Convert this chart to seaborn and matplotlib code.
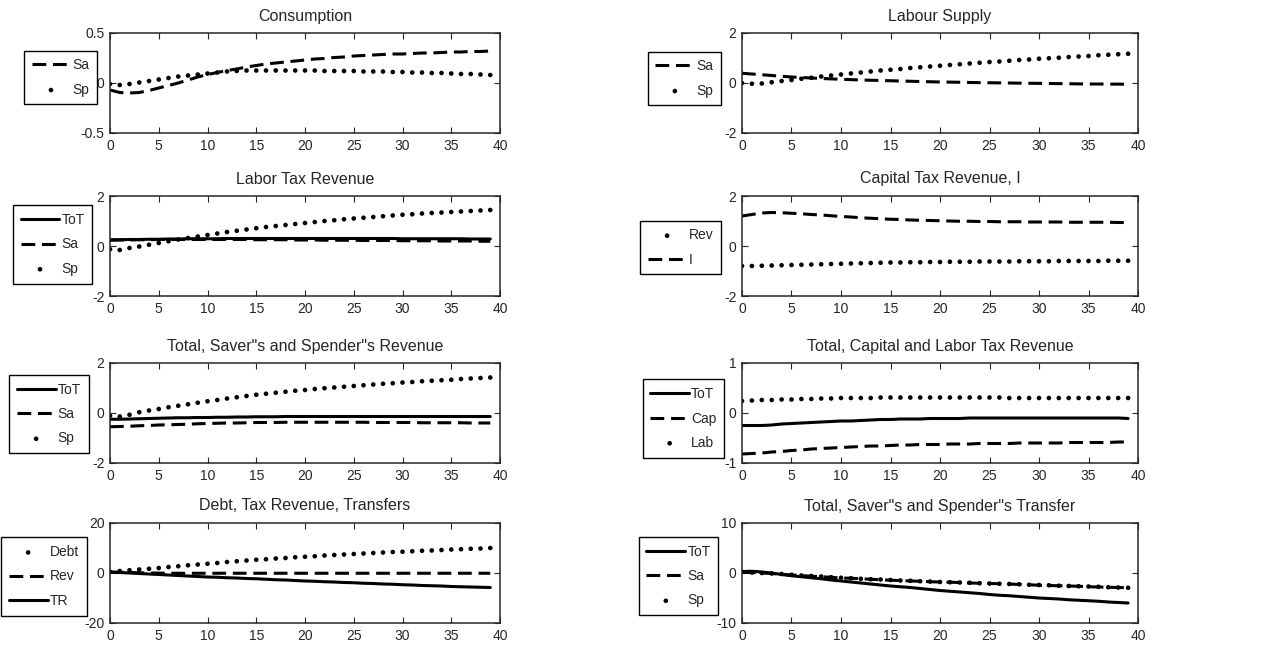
import matplotlib

matplotlib.use("Agg")
import matplotlib.pyplot as plt
import numpy as np
import seaborn as sns

# %% Data (periods 0..39)
t = np.arange(40)

cons_sa = [-0.07, -0.095, -0.10, -0.095, -0.075, -0.05, -0.025, 0.00, 0.03, 0.06,
           0.085, 0.105, 0.125, 0.14, 0.16, 0.175, 0.19, 0.20, 0.21, 0.22,
           0.23, 0.24, 0.245, 0.255, 0.26, 0.27, 0.275, 0.28, 0.285, 0.29,
           0.29, 0.295, 0.30, 0.30, 0.305, 0.31, 0.31, 0.315, 0.315, 0.32]
cons_sp = [-0.01, -0.02, -0.01, 0.005, 0.02, 0.035, 0.05, 0.065, 0.075, 0.085,
           0.095, 0.105, 0.115, 0.12, 0.125, 0.125, 0.125, 0.125, 0.125, 0.125,
           0.125, 0.125, 0.12, 0.12, 0.12, 0.12, 0.115, 0.115, 0.115, 0.11,
           0.11, 0.105, 0.105, 0.10, 0.10, 0.095, 0.09, 0.09, 0.085, 0.08]

lab_sa = [0.39, 0.36, 0.33, 0.30, 0.27, 0.24, 0.22, 0.20, 0.18, 0.165,
          0.15, 0.135, 0.12, 0.11, 0.10, 0.09, 0.08, 0.07, 0.06, 0.05,
          0.04, 0.035, 0.03, 0.02, 0.015, 0.01, 0.005, 0.0, -0.005, -0.01,
          -0.015, -0.02, -0.025, -0.03, -0.035, -0.04, -0.04, -0.045, -0.045, -0.05]
lab_sp = [0.0, -0.03, -0.02, 0.03, 0.08, 0.12, 0.17, 0.21, 0.26, 0.30,
          0.34, 0.38, 0.42, 0.46, 0.50, 0.53, 0.56, 0.60, 0.63, 0.66,
          0.69, 0.72, 0.75, 0.78, 0.81, 0.84, 0.86, 0.89, 0.92, 0.94,
          0.97, 0.99, 1.01, 1.04, 1.06, 1.08, 1.11, 1.13, 1.15, 1.17]

ltr_tot = [0.25, 0.25, 0.26, 0.26, 0.27, 0.27, 0.28, 0.28, 0.29, 0.29,
           0.29, 0.29, 0.30, 0.30, 0.30, 0.30, 0.30, 0.30, 0.30, 0.30,
           0.30, 0.30, 0.30, 0.30, 0.30, 0.30, 0.30, 0.30, 0.30, 0.30,
           0.29, 0.29, 0.29, 0.29, 0.29, 0.29, 0.29, 0.28, 0.28, 0.28]
ltr_sa = [0.23, 0.24, 0.24, 0.25, 0.25, 0.26, 0.26, 0.26, 0.26, 0.26,
          0.26, 0.26, 0.26, 0.26, 0.26, 0.25, 0.25, 0.25, 0.25, 0.24,
          0.24, 0.24, 0.23, 0.23, 0.23, 0.23, 0.22, 0.22, 0.22, 0.22,
          0.21, 0.21, 0.21, 0.21, 0.20, 0.20, 0.20, 0.20, 0.19, 0.19]
ltr_sp = [-0.13, -0.16, -0.08, -0.02, 0.05, 0.12, 0.19, 0.26, 0.32, 0.38,
          0.44, 0.50, 0.56, 0.61, 0.66, 0.71, 0.76, 0.80, 0.84, 0.88,
          0.92, 0.96, 1.00, 1.03, 1.07, 1.10, 1.13, 1.16, 1.19, 1.22,
          1.25, 1.27, 1.30, 1.32, 1.34, 1.36, 1.38, 1.40, 1.42, 1.44]

ctr_rev = [-0.80, -0.80, -0.79, -0.78, -0.77, -0.76, -0.75, -0.74, -0.73, -0.72,
           -0.71, -0.70, -0.69, -0.68, -0.67, -0.66, -0.66, -0.65, -0.65, -0.64,
           -0.64, -0.63, -0.63, -0.63, -0.62, -0.62, -0.62, -0.62, -0.61, -0.61,
           -0.61, -0.61, -0.60, -0.60, -0.60, -0.60, -0.60, -0.59, -0.59, -0.59]
ctr_i = [1.20, 1.26, 1.32, 1.34, 1.33, 1.31, 1.29, 1.26, 1.24, 1.21,
         1.18, 1.16, 1.13, 1.11, 1.09, 1.07, 1.06, 1.04, 1.03, 1.02,
         1.01, 1.00, 0.99, 0.99, 0.98, 0.98, 0.97, 0.97, 0.97, 0.96,
         0.96, 0.96, 0.96, 0.95, 0.95, 0.95, 0.95, 0.95, 0.94, 0.94]

rev_tot = [-0.25, -0.25, -0.24, -0.23, -0.22, -0.21, -0.20, -0.19, -0.19, -0.18,
           -0.18, -0.17, -0.17, -0.16, -0.16, -0.15, -0.15, -0.15, -0.14, -0.14,
           -0.14, -0.14, -0.14, -0.14, -0.14, -0.14, -0.14, -0.14, -0.14, -0.14,
           -0.14, -0.14, -0.14, -0.14, -0.14, -0.14, -0.14, -0.14, -0.14, -0.14]
rev_sa = [-0.55, -0.54, -0.53, -0.51, -0.50, -0.48, -0.47, -0.46, -0.45, -0.43,
          -0.42, -0.41, -0.40, -0.40, -0.39, -0.38, -0.38, -0.38, -0.37, -0.37,
          -0.37, -0.37, -0.37, -0.37, -0.37, -0.37, -0.37, -0.38, -0.38, -0.38,
          -0.38, -0.38, -0.39, -0.39, -0.39, -0.39, -0.39, -0.40, -0.40, -0.40]
rev_sp = [-0.11, -0.14, -0.07, 0.03, 0.10, 0.16, 0.23, 0.29, 0.35, 0.41,
          0.47, 0.52, 0.58, 0.63, 0.68, 0.73, 0.77, 0.81, 0.85, 0.89,
          0.92, 0.96, 0.99, 1.02, 1.05, 1.08, 1.11, 1.14, 1.17, 1.19,
          1.22, 1.24, 1.27, 1.29, 1.31, 1.33, 1.36, 1.38, 1.40, 1.42]

tax_tot = [-0.25, -0.25, -0.25, -0.24, -0.22, -0.21, -0.20, -0.19, -0.18, -0.17,
           -0.16, -0.16, -0.15, -0.14, -0.13, -0.13, -0.12, -0.12, -0.12, -0.11,
           -0.11, -0.11, -0.11, -0.10, -0.10, -0.10, -0.10, -0.10, -0.10, -0.10,
           -0.10, -0.10, -0.10, -0.10, -0.10, -0.10, -0.10, -0.10, -0.10, -0.11]
tax_cap = [-0.82, -0.81, -0.80, -0.78, -0.77, -0.75, -0.74, -0.72, -0.71, -0.70,
           -0.69, -0.68, -0.67, -0.66, -0.66, -0.65, -0.64, -0.64, -0.63, -0.63,
           -0.63, -0.62, -0.62, -0.62, -0.61, -0.61, -0.61, -0.61, -0.60, -0.60,
           -0.60, -0.60, -0.60, -0.59, -0.59, -0.59, -0.59, -0.59, -0.58, -0.58]
tax_lab = [0.24, 0.25, 0.26, 0.26, 0.27, 0.27, 0.28, 0.28, 0.29, 0.29,
           0.30, 0.30, 0.30, 0.30, 0.31, 0.31, 0.31, 0.31, 0.31, 0.31,
           0.31, 0.31, 0.31, 0.31, 0.31, 0.31, 0.31, 0.30, 0.30, 0.30,
           0.30, 0.30, 0.30, 0.30, 0.30, 0.30, 0.30, 0.30, 0.30, 0.30]

debt = [0.5, 0.8, 1.1, 1.4, 1.7, 2.0, 2.4, 2.7, 3.1, 3.4,
        3.7, 4.0, 4.4, 4.7, 5.0, 5.3, 5.5, 5.8, 6.0, 6.3,
        6.5, 6.7, 7.0, 7.2, 7.4, 7.6, 7.8, 8.0, 8.2, 8.4,
        8.5, 8.7, 8.9, 9.0, 9.2, 9.4, 9.5, 9.7, 9.8, 10.0]
debt_rev = [0.4, 0.3, 0.2, 0.1, 0.0, -0.05, -0.1, -0.1, -0.1, -0.1,
            -0.1, -0.1, -0.1, -0.1, -0.1, -0.1, -0.1, -0.1, -0.1, -0.1,
            -0.1, -0.1, -0.1, -0.1, -0.1, -0.1, -0.1, -0.1, -0.1, -0.1,
            -0.1, -0.1, -0.1, -0.1, -0.1, -0.1, -0.1, -0.1, -0.1, -0.1]
debt_tr = [0.3, 0.2, 0.0, -0.2, -0.4, -0.6, -0.8, -1.0, -1.2, -1.4,
           -1.6, -1.7, -1.9, -2.0, -2.2, -2.3, -2.5, -2.7, -2.8, -3.0,
           -3.2, -3.3, -3.5, -3.6, -3.8, -3.9, -4.1, -4.2, -4.4, -4.5,
           -4.7, -4.8, -5.0, -5.1, -5.2, -5.4, -5.5, -5.6, -5.7, -5.8]

trf_tot = [0.3, 0.35, 0.2, 0.0, -0.3, -0.55, -0.75, -0.95, -1.15, -1.4,
           -1.6, -1.8, -2.0, -2.2, -2.4, -2.6, -2.75, -2.9, -3.1, -3.3,
           -3.5, -3.65, -3.8, -3.95, -4.1, -4.3, -4.45, -4.55, -4.7, -4.85,
           -5.0, -5.1, -5.2, -5.35, -5.45, -5.55, -5.65, -5.8, -5.9, -6.0]
trf_sa = [0.15, 0.1, 0.0, -0.1, -0.25, -0.4, -0.5, -0.65, -0.75, -0.85,
          -1.0, -1.05, -1.15, -1.25, -1.35, -1.45, -1.5, -1.6, -1.65, -1.75,
          -1.8, -1.85, -1.9, -2.0, -2.05, -2.1, -2.15, -2.2, -2.3, -2.35,
          -2.45, -2.5, -2.55, -2.6, -2.65, -2.75, -2.8, -2.85, -2.9, -2.95]
trf_sp = [0.2, 0.1, 0.0, -0.1, -0.2, -0.35, -0.5, -0.6, -0.7, -0.85,
          -0.95, -1.05, -1.15, -1.25, -1.3, -1.4, -1.5, -1.55, -1.65, -1.7,
          -1.8, -1.85, -1.9, -1.95, -2.05, -2.1, -2.15, -2.2, -2.25, -2.35,
          -2.4, -2.45, -2.55, -2.6, -2.65, -2.7, -2.75, -2.85, -2.9, -2.95]

# %% Style - MATLAB-like boxed axes with inward ticks
sns.set_style("ticks")
plt.rcParams["font.family"] = ["Liberation Sans", "DejaVu Sans"]
plt.rcParams["xtick.direction"] = "in"
plt.rcParams["ytick.direction"] = "in"
plt.rcParams["xtick.top"] = True
plt.rcParams["ytick.right"] = True
plt.rcParams["lines.dashed_pattern"] = [4.5, 2.2]

fig = plt.figure(figsize=(12.75, 6.5), dpi=100)

col_x = [110 / 1275, 742 / 1275]
col_w = [390 / 1275, 396 / 1275]
row_top = [33, 196, 363, 523]


def draw_panel(row, col, title, series, ylim, yticks, leg_anchor):
    ax = fig.add_axes([col_x[col], 1 - (row_top[row] + 100) / 650,
                       col_w[col], 100 / 650])
    for label, vals, kind in series:
        if kind == "dot":
            sns.scatterplot(x=t, y=vals, ax=ax, color="black", s=11,
                            edgecolor="none", label=label)
        else:
            sns.lineplot(x=t, y=vals, ax=ax, color="black", lw=2.2,
                         linestyle="--" if kind == "dash" else "-", label=label)
    ax.set_xlim(0, 40)
    ax.set_ylim(*ylim)
    ax.set_xticks(range(0, 41, 5))
    ax.set_yticks(yticks)
    ax.set_yticklabels([f"{v:g}" for v in yticks])
    ax.tick_params(labelsize=10, length=4, width=0.8, pad=4)
    for s in ax.spines.values():
        s.set_linewidth(1.1)
    ax.set_title(title, fontsize=11.5, pad=9)
    ax.set_xlabel("")
    ax.set_ylabel("")
    leg = ax.legend(loc="center right", bbox_to_anchor=leg_anchor,
                    fontsize=10, frameon=True, fancybox=False, framealpha=1,
                    edgecolor="black", handlelength=2.8, handletextpad=0.15,
                    borderpad=0.55, labelspacing=0.75, borderaxespad=0)
    leg.get_frame().set_linewidth(1.0)
    return ax


draw_panel(0, 0, "Consumption",
           [("Sa", cons_sa, "dash"), ("Sp", cons_sp, "dot")],
           (-0.5, 0.5), [-0.5, 0, 0.5], (-0.033, 0.555))
draw_panel(0, 1, "Labour Supply",
           [("Sa", lab_sa, "dash"), ("Sp", lab_sp, "dot")],
           (-2, 2), [-2, 0, 2], (-0.053, 0.545))
draw_panel(1, 0, "Labor Tax Revenue",
           [("ToT", ltr_tot, "solid"), ("Sa", ltr_sa, "dash"), ("Sp", ltr_sp, "dot")],
           (-2, 2), [-2, 0, 2], (-0.045, 0.515))
draw_panel(1, 1, "Capital Tax Revenue, I",
           [("Rev", ctr_rev, "dot"), ("I", ctr_i, "dash")],
           (-2, 2), [-2, 0, 2], (-0.053, 0.485))
draw_panel(2, 0, 'Total, Saver"s and Spender"s Revenue',
           [("ToT", rev_tot, "solid"), ("Sa", rev_sa, "dash"), ("Sp", rev_sp, "dot")],
           (-2, 2), [-2, 0, 2], (-0.055, 0.49))
draw_panel(2, 1, "Total, Capital and Labor Tax Revenue",
           [("ToT", tax_tot, "solid"), ("Cap", tax_cap, "dash"), ("Lab", tax_lab, "dot")],
           (-1, 1), [-1, 0, 1], (-0.045, 0.445))
draw_panel(3, 0, "Debt, Tax Revenue, Transfers",
           [("Debt", debt, "dot"), ("Rev", debt_rev, "dash"), ("TR", debt_tr, "solid")],
           (-20, 20), [-20, 0, 20], (-0.06, 0.465))
draw_panel(3, 1, 'Total, Saver"s and Spender"s Transfer',
           [("ToT", trf_tot, "solid"), ("Sa", trf_sa, "dash"), ("Sp", trf_sp, "dot")],
           (-10, 10), [-10, 0, 10], (-0.06, 0.47))

plt.savefig("out.png", dpi=100)
plt.close()
